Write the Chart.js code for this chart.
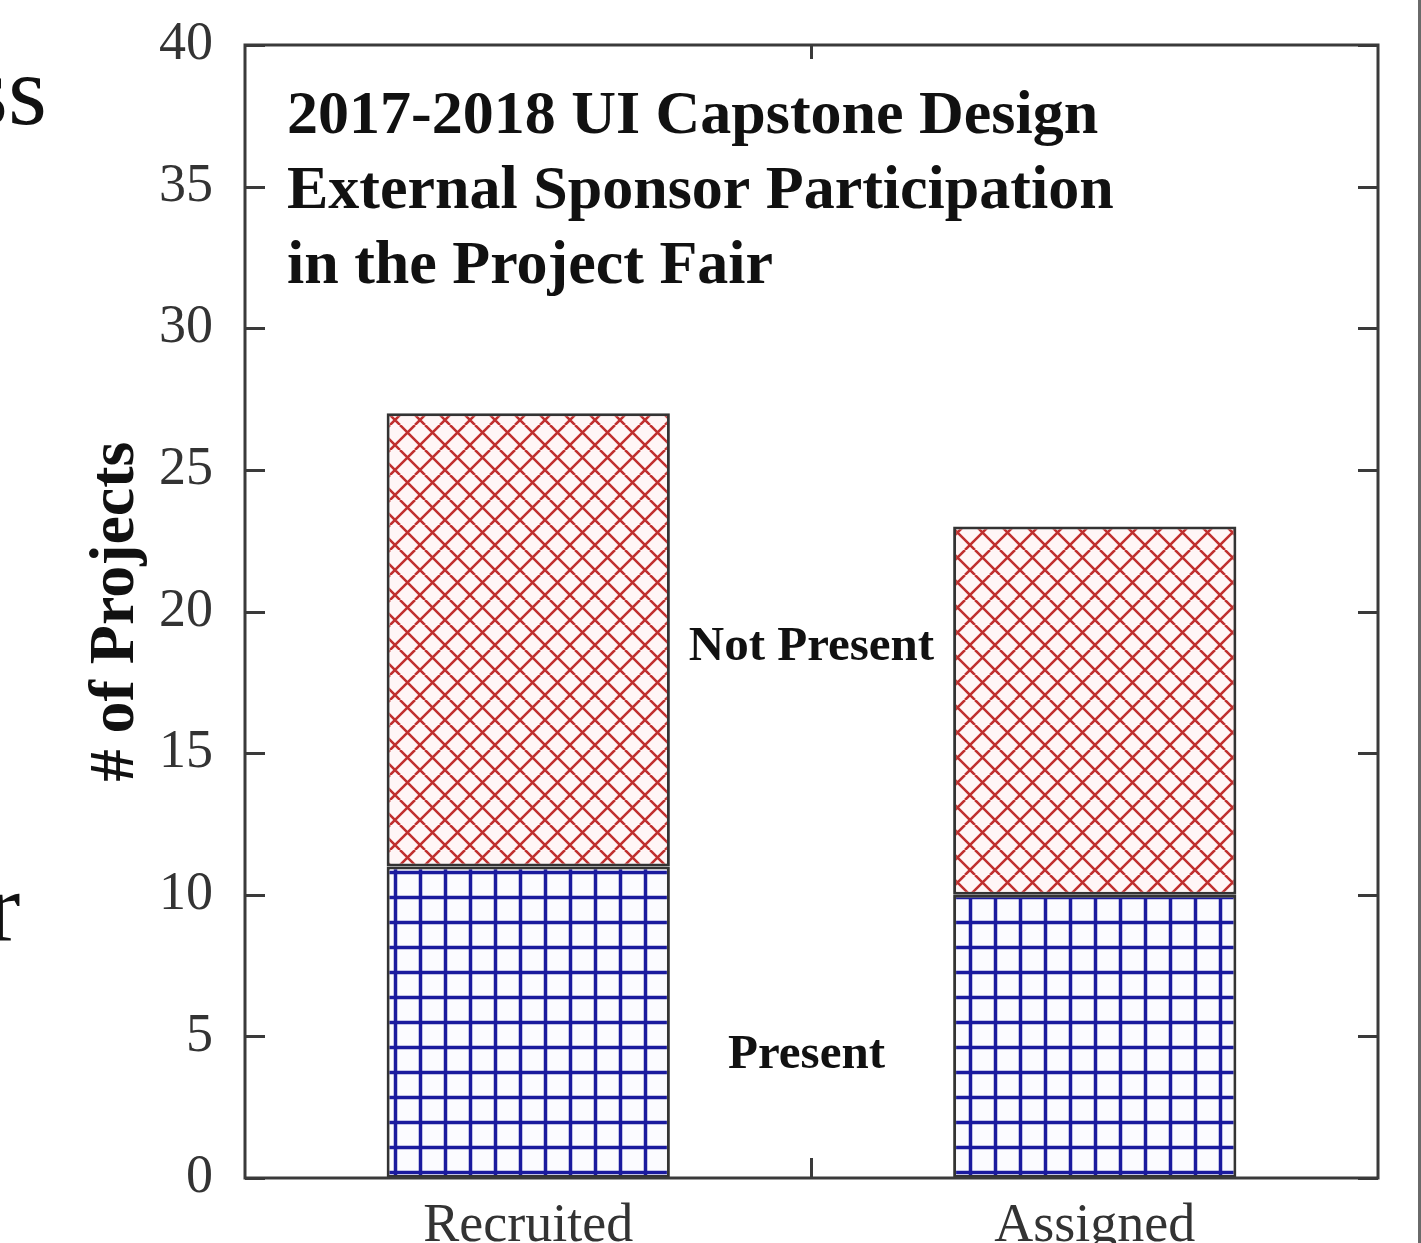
<!DOCTYPE html>
<html lang="en">
<head>
    <meta charset="UTF-8">
    <title>External Sponsor Participation</title>
    <style>
        body {
            margin: 0;
            padding: 0;
            background-color: #ffffff;
            overflow: hidden;
        }
        #wrap {
            position: relative;
            width: 1421px;
            height: 1243px;
            overflow: hidden;
        }
        canvas {
            position: absolute;
            left: 0;
            top: 0;
        }
        .frag {
            position: absolute;
            font-family: "Liberation Serif", "Times New Roman", serif;
            font-size: 100px;
            color: #111;
            line-height: 1;
        }
        #edge {
            position: absolute;
            left: 1418px;
            top: 0;
            width: 3px;
            height: 1243px;
            background-color: #6a6a6a;
        }
    </style>
</head>
<body>
    <div id="wrap">
        <canvas id="myChart" width="1421" height="1300"></canvas>
        <div class="frag" style="left:-31px; top:41px;">ss</div>
        <div class="frag" style="left:-13px; top:858px;">r</div>
        <div id="edge"></div>
    </div>
    <script src="https://cdn.jsdelivr.net/npm/chart.js"></script>
    <script>
        // data
        const categories = ['Recruited', 'Assigned'];
        const presentValues = [11, 10];
        const notPresentValues = [16, 13];
        const yTickMin = 0;
        const yTickMax = 40;
        const yTickStep = 5;
        const titleLines = [
            '2017-2018 UI Capstone Design',
            'External Sponsor Participation',
            'in the Project Fair'
        ];
        const seriesNames = ['Present', 'Not Present'];

        const serif = '"Liberation Serif", "Times New Roman", serif';

        // blue square grid fill
        function makeGrid() {
            const c = document.createElement('canvas');
            c.width = 25; c.height = 25;
            const g = c.getContext('2d');
            g.fillStyle = '#fbfbff';
            g.fillRect(0, 0, 25, 25);
            g.strokeStyle = '#1a1a9e';
            g.lineWidth = 3.5;
            g.beginPath();
            g.moveTo(20.5, 0); g.lineTo(20.5, 25);
            g.moveTo(0, 22.5); g.lineTo(25, 22.5);
            g.stroke();
            return g.createPattern(c, 'repeat');
        }

        // red diagonal crosshatch fill
        function makeCross() {
            const c = document.createElement('canvas');
            c.width = 25; c.height = 25;
            const g = c.getContext('2d');
            g.fillStyle = '#fff6f6';
            g.fillRect(0, 0, 25, 25);
            g.strokeStyle = '#c0302f';
            g.lineWidth = 2.5;
            g.beginPath();
            for (const k of [-25, 0, 25]) {
                g.moveTo(k, 0); g.lineTo(k + 25, 25);
                g.moveTo(15 + k, 0); g.lineTo(15 + k - 25, 25);
            }
            g.stroke();
            return g.createPattern(c, 'repeat');
        }

        const framePlugin = {
            id: 'frame',
            afterDraw(chart) {
                const ctx = chart.ctx;
                const a = chart.chartArea;
                const x = chart.scales.x;
                const y = chart.scales.y;
                ctx.save();
                ctx.strokeStyle = '#3a3a3a';
                ctx.lineWidth = 3;
                ctx.strokeRect(a.left, a.top, a.right - a.left, a.bottom - a.top);

                // inward ticks
                ctx.beginPath();
                y.ticks.forEach(t => {
                    const py = Math.round(y.getPixelForValue(t.value)) + 0.5;
                    ctx.moveTo(a.left, py); ctx.lineTo(a.left + 20, py);
                    ctx.moveTo(a.right, py); ctx.lineTo(a.right - 20, py);
                });
                for (let i = 0; i < categories.length - 1; i++) {
                    const px = (x.getPixelForValue(i) + x.getPixelForValue(i + 1)) / 2;
                    ctx.moveTo(px, a.bottom); ctx.lineTo(px, a.bottom - 20);
                    ctx.moveTo(px, a.top); ctx.lineTo(px, a.top + 14);
                }
                ctx.stroke();

                // title block inside the plot
                ctx.fillStyle = '#111';
                ctx.textAlign = 'left';
                ctx.textBaseline = 'alphabetic';
                ctx.font = 'bold 62px ' + serif;
                titleLines.forEach((line, i) => {
                    ctx.fillText(line, a.left + 42, a.top + 88 + i * 75);
                });

                // series labels between the bars
                const mid = (x.getPixelForValue(0) + x.getPixelForValue(1)) / 2;
                ctx.font = 'bold 49px ' + serif;
                ctx.textAlign = 'center';
                ctx.fillText(seriesNames[1], mid, y.getPixelForValue(18.3));
                ctx.fillText(seriesNames[0], mid - 5, y.getPixelForValue(3.9));
                ctx.restore();
            }
        };

        const ctx = document.getElementById('myChart').getContext('2d');
        const myChart = new Chart(ctx, {
            type: 'bar',
            data: {
                labels: categories,
                datasets: [{
                    label: seriesNames[0],
                    data: presentValues,
                    backgroundColor: makeGrid(),
                    borderColor: '#333',
                    borderWidth: 3,
                    borderSkipped: false
                }, {
                    label: seriesNames[1],
                    data: notPresentValues,
                    backgroundColor: makeCross(),
                    borderColor: '#333',
                    borderWidth: 3,
                    borderSkipped: false
                }]
            },
            options: {
                responsive: false,
                animation: false,
                devicePixelRatio: 1,
                layout: { padding: { top: 45, right: 43, left: 0, bottom: 0 } },
                datasets: {
                    bar: { categoryPercentage: 1.0, barPercentage: 0.5 }
                },
                plugins: {
                    legend: { display: false },
                    tooltip: { enabled: false }
                },
                scales: {
                    x: {
                        stacked: true,
                        grid: { display: false, drawTicks: false },
                        border: { display: false },
                        ticks: {
                            color: '#333',
                            font: { family: serif, size: 54 },
                            padding: 16,
                            maxRotation: 0
                        },
                        afterFit(scale) { scale.height = 122; }
                    },
                    y: {
                        stacked: true,
                        min: yTickMin,
                        max: yTickMax,
                        grid: { display: false, drawTicks: false },
                        border: { display: false },
                        ticks: {
                            stepSize: yTickStep,
                            color: '#333',
                            font: { family: serif, size: 54 },
                            padding: 32
                        },
                        title: {
                            display: true,
                            text: '# of Projects',
                            color: '#111',
                            font: { family: serif, size: 64, weight: 'bold' },
                            padding: { top: 78, bottom: 0 }
                        },
                        afterFit(scale) {
                            scale.width = 245;
                            scale.paddingTop = 20;
                            scale.paddingBottom = 20;
                        }
                    }
                }
            },
            plugins: [framePlugin]
        });
    </script>
</body>
</html>
